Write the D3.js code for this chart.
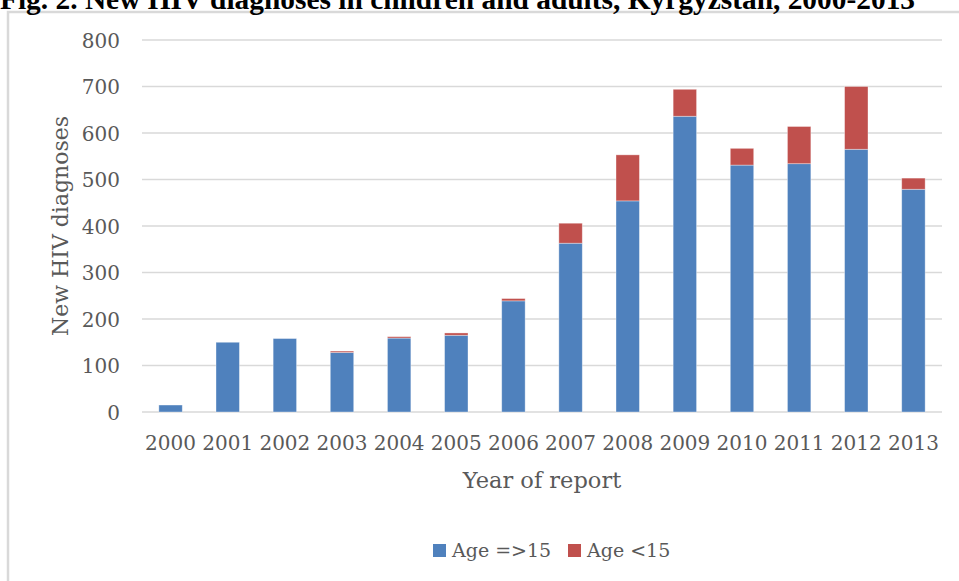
<!DOCTYPE html>
<html><head><meta charset="utf-8">
<script src="https://cdn.jsdelivr.net/npm/d3@7"></script>
<style>
html,body{margin:0;padding:0;background:#fff;overflow:hidden;}
svg{display:block;}
</style></head>
<body>
<script>
const years = ["2000","2001","2002","2003","2004","2005","2006","2007","2008","2009","2010","2011","2012","2013"];
const adults = [15,150,158,128,159,165,239,363,454,636,531,534,565,479];
const children = [0,0,0,3,3,5,5,43,99,58,36,80,135,24];
const seriesNames = ["Age =>15","Age <15"];
const seriesColors = ["#4F81BD","#C0504D"];
const yTicks = [0,100,200,300,400,500,600,700,800];

const W = 959, H = 581;
const svg = d3.select("body").append("svg").attr("width", W).attr("height", H);

// chart frame
svg.append("rect").attr("x", 8).attr("y", 12).attr("width", W + 10).attr("height", H + 10)
  .attr("fill", "#fff").attr("stroke", "#d9d9d9").attr("stroke-width", 2.5);

// title (cut off at top, as in the reference)
svg.append("text").attr("x", 0).attr("y", 8.5)
  .attr("font-family", "Liberation Serif").attr("font-weight", "bold").attr("font-size", 29.4)
  .attr("fill", "#000")
  .text("Fig. 2. New HIV diagnoses in children and adults, Kyrgyzstan, 2000-2013");

const m = {left: 142, right: 942, top: 40, bottom: 412};
const x = d3.scaleBand().domain(years).range([m.left, m.right]).paddingInner(0.59).paddingOuter(0.295);
const y = d3.scaleLinear().domain([0, 800]).range([m.bottom, m.top]);

const font = "DejaVu Serif";
const txtCol = "#595959";

// gridlines
svg.append("g").selectAll("line").data(yTicks).join("line")
  .attr("x1", m.left).attr("x2", m.right)
  .attr("y1", d => y(d)).attr("y2", d => y(d))
  .attr("stroke", "#d9d9d9").attr("stroke-width", 1.5);

// y axis labels
const yAxis = d3.axisLeft(y).tickValues(yTicks).tickSize(0).tickPadding(0);
const gy = svg.append("g").attr("transform", `translate(120,0)`).call(yAxis);
gy.select(".domain").remove();
gy.selectAll("text").attr("font-family", font).attr("font-size", 20).attr("fill", txtCol).attr("dy", "0.36em");

// stacked bars
const table = years.map((yr, i) => ({year: yr, a: adults[i], c: children[i]}));
const stack = d3.stack().keys(["a","c"])(table);
svg.append("g").selectAll("g").data(stack).join("g")
  .attr("fill", (d, i) => seriesColors[i])
  .selectAll("rect").data(d => d.filter(p => p[1] - p[0] > 0)).join("rect")
  .attr("x", d => x(d.data.year)).attr("width", x.bandwidth())
  .attr("y", d => y(d[1])).attr("height", d => y(d[0]) - y(d[1]))
  .attr("stroke", "rgba(255,255,255,0.45)").attr("stroke-width", 0.8);

// x axis labels
const xAxis = d3.axisBottom(x).tickSize(0).tickPadding(0);
const gx = svg.append("g").attr("transform", `translate(0,${m.bottom})`).call(xAxis);
gx.select(".domain").remove();
gx.selectAll("text").attr("font-family", font).attr("font-size", 20).attr("fill", txtCol)
  .attr("dy", null).attr("y", 38);

// axis titles
svg.append("text").attr("x", (m.left + m.right) / 2).attr("y", 488).attr("text-anchor", "middle")
  .attr("font-family", font).attr("font-size", 22.5).attr("fill", txtCol).text("Year of report");
svg.append("text").attr("transform", `translate(68,${(m.top + m.bottom) / 2}) rotate(-90)`)
  .attr("text-anchor", "middle")
  .attr("font-family", font).attr("font-size", 22).attr("fill", txtCol).text("New HIV diagnoses");

// legend
const legendX = [433, 568];
const lg = svg.append("g").selectAll("g").data(seriesNames).join("g")
  .attr("transform", (d, i) => `translate(${legendX[i]},544)`);
lg.append("rect").attr("width", 13).attr("height", 13).attr("fill", (d, i) => seriesColors[i]);
lg.append("text").attr("x", 19).attr("y", 13).attr("font-family", font).attr("font-size", 19)
  .attr("fill", txtCol).text(d => d);
</script>
</body></html>
